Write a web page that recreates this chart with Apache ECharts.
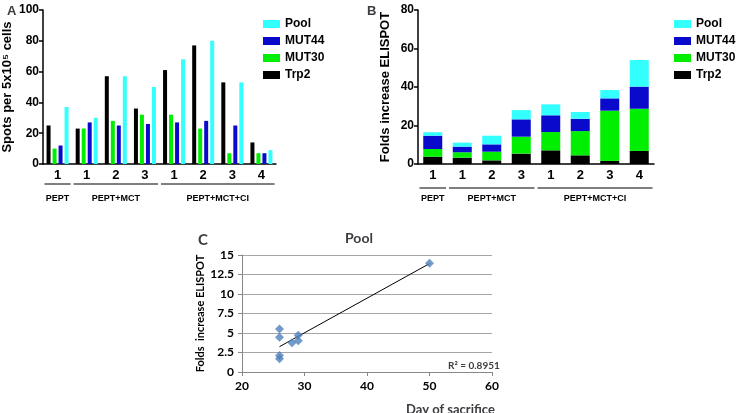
<!DOCTYPE html>
<html>
<head>
<meta charset="utf-8">
<script src="https://cdn.jsdelivr.net/npm/echarts@6/dist/echarts.min.js"></script>
<style>
  html, body { margin: 0; padding: 0; background: #fff; }
  #chart { width: 736px; height: 413px; }
</style>
</head>
<body>
<div id="chart"></div>
<script>
// panel A / B share categories
const categories = ['1', '1', '2', '3', '1', '2', '3', '4']
const groups = [
  { name: 'PEPT', from: 0, to: 0 },
  { name: 'PEPT+MCT', from: 1, to: 3 },
  { name: 'PEPT+MCT+CI', from: 4, to: 7 }
]

// A: spots per 5x10^5 cells
const spotsTrp2 = [25, 23, 57, 36, 61, 77, 53, 14]
const spotsMut30 = [10, 23, 28, 32, 32, 23, 7, 7]
const spotsMut44 = [12, 27, 25, 26, 27, 28, 25, 7]
const spotsPool = [37, 30, 57, 50, 68, 80, 53, 9]

// B: folds increase (stacked pieces)
const foldsTrp2 = [3.8, 3.3, 1.9, 5.4, 7.1, 4.5, 1.6, 6.8]
const foldsMut30 = [4.0, 2.8, 4.5, 8.8, 9.5, 12.6, 26.1, 21.9]
const foldsMut44 = [6.9, 2.9, 3.8, 9.0, 8.7, 6.4, 6.4, 11.5]
const foldsPool = [1.8, 2.1, 4.5, 4.8, 5.7, 3.5, 4.3, 13.8]

// C: pool vs day of sacrifice
const poolDays = [26, 26, 26, 26, 28, 29, 29, 50]
const poolFolds = [5.5, 4.45, 2.1, 1.7, 3.75, 4.7, 4.0, 13.95]
const trendLine = [[26, 3.25], [50, 13.9]]

const colors = { Trp2: '#000000', MUT30: '#00ee00', MUT44: '#0a0acc', Pool: '#33ffff' }
const legendOrder = ['Pool', 'MUT44', 'MUT30', 'Trp2']

const boldFont = 'Arial, "Liberation Sans", sans-serif'
const calFont = 'Lato, sans-serif'

const myChart = echarts.init(document.getElementById('chart'))

function barAxisX(gridIndex) {
  return {
    type: 'category',
    gridIndex: gridIndex,
    data: categories,
    axisLine: { lineStyle: { color: '#000', width: 1.5 } },
    axisTick: { alignWithLabel: true, length: 4, lineStyle: { color: '#000', width: 1.5 } },
    axisLabel: { color: '#000', fontFamily: boldFont, fontWeight: 'bold', fontSize: 13, margin: 5 }
  }
}

function barAxisY(gridIndex, max, interval, name, gap) {
  return {
    type: 'value',
    gridIndex: gridIndex,
    min: 0,
    max: max,
    interval: interval,
    name: name,
    nameLocation: 'middle',
    nameGap: gap,
    nameTextStyle: { color: '#000', fontFamily: boldFont, fontWeight: 'bold', fontSize: 13 },
    axisLine: { show: true, lineStyle: { color: '#000', width: 1.5 } },
    axisTick: { show: true, length: 4, lineStyle: { color: '#000', width: 1.5 } },
    axisLabel: { color: '#000', fontFamily: boldFont, fontWeight: 'bold', fontSize: 12, margin: 4 },
    splitLine: { show: false }
  }
}

function barSeries(name, data, idx, stacked) {
  const s = {
    name: name,
    type: 'bar',
    xAxisIndex: idx,
    yAxisIndex: idx,
    data: data,
    itemStyle: { color: colors[name] },
    barWidth: stacked ? 19 : 4,
    barGap: stacked ? '-100%' : '50%'
  }
  if (stacked) s.stack = 'folds'
  return s
}

function legendAt(left) {
  return {
    data: legendOrder,
    orient: 'vertical',
    left: left,
    top: 13,
    itemWidth: 17,
    itemHeight: 8,
    itemGap: 5,
    icon: 'rect',
    textStyle: { color: '#000', fontFamily: boldFont, fontWeight: 'bold', fontSize: 12 }
  }
}

const calAxisLabel = { color: '#000', fontFamily: calFont, fontWeight: 'bold', fontSize: 12 }

const options = {
  animation: false,
  title: [
    { text: 'A', left: 2, top: 0, textStyle: { fontFamily: boldFont, fontWeight: 'bold', fontSize: 13 } },
    { text: 'B', left: 362, top: 0, textStyle: { fontFamily: boldFont, fontWeight: 'bold', fontSize: 13 } },
    { text: 'C', left: 193, top: 228, textStyle: { fontFamily: calFont, fontWeight: 'bold', fontSize: 15 } },
    { text: 'Pool', left: 340, top: 226, textStyle: { fontFamily: calFont, fontWeight: 'bold', fontSize: 14 } },
    { text: 'R² = 0.8951', left: 443, top: 356, textStyle: { fontFamily: calFont, fontWeight: 'bold', fontSize: 10 } },
    { text: 'Day of sacrifice', left: 401, top: 398, textStyle: { fontFamily: calFont, fontWeight: 'bold', fontSize: 13 } }
  ],
  legend: [legendAt(258), legendAt(669)],
  grid: [
    { left: 43, top: 10, width: 233, height: 154 },
    { left: 418, top: 10, width: 236, height: 154 },
    { left: 242, top: 255, width: 250, height: 117 }
  ],
  xAxis: [
    barAxisX(0),
    barAxisX(1),
    {
      type: 'value',
      gridIndex: 2,
      min: 20,
      max: 60,
      interval: 10,
      axisLine: { show: true, onZero: false, lineStyle: { color: '#888' } },
      axisTick: { show: true, length: 4, lineStyle: { color: '#888' } },
      axisLabel: calAxisLabel,
      splitLine: { show: false }
    }
  ],
  yAxis: [
    barAxisY(0, 100, 20, 'Spots per 5x10⁵ cells', 29),
    barAxisY(1, 80, 20, 'Folds increase ELISPOT', 26),
    {
      type: 'value',
      gridIndex: 2,
      min: 0,
      max: 15,
      interval: 2.5,
      name: 'Folds  increase ELISPOT',
      nameLocation: 'middle',
      nameGap: 36,
      nameTextStyle: { color: '#000', fontFamily: calFont, fontWeight: 'bold', fontSize: 11 },
      axisLine: { show: true, lineStyle: { color: '#888' } },
      axisTick: { show: true, length: 4, lineStyle: { color: '#888' } },
      axisLabel: calAxisLabel,
      splitLine: { show: true, lineStyle: { color: '#a6a6a6' } }
    }
  ],
  series: [
    barSeries('Trp2', spotsTrp2, 0, false),
    barSeries('MUT30', spotsMut30, 0, false),
    barSeries('MUT44', spotsMut44, 0, false),
    barSeries('Pool', spotsPool, 0, false),
    barSeries('Trp2', foldsTrp2, 1, true),
    barSeries('MUT30', foldsMut30, 1, true),
    barSeries('MUT44', foldsMut44, 1, true),
    barSeries('Pool', foldsPool, 1, true),
    {
      type: 'line',
      xAxisIndex: 2,
      yAxisIndex: 2,
      data: trendLine,
      showSymbol: false,
      lineStyle: { color: '#000', width: 1 },
      z: 1
    },
    {
      type: 'scatter',
      xAxisIndex: 2,
      yAxisIndex: 2,
      data: poolDays.map((d, i) => [d, poolFolds[i]]),
      symbol: 'diamond',
      symbolSize: 9,
      itemStyle: { color: '#4f81bd' },
      z: 3
    }
  ]
}
myChart.setOption(options)

// group brackets under the category axes
function groupGraphics(axisIdx, lineY, textY) {
  const out = []
  const c0 = myChart.convertToPixel({ xAxisIndex: axisIdx }, 0)
  const c1 = myChart.convertToPixel({ xAxisIndex: axisIdx }, 1)
  const w = c1 - c0
  groups.forEach(g => {
    const x1 = c0 + (g.from - 0.45) * w
    const x2 = c0 + (g.to + 0.45) * w
    out.push({
      type: 'line',
      shape: { x1: x1, y1: lineY, x2: x2, y2: lineY },
      style: { stroke: '#000', lineWidth: 1 }
    })
    out.push({
      type: 'text',
      x: (x1 + x2) / 2,
      y: textY,
      style: {
        text: g.name,
        fill: '#000',
        font: 'bold 9px Arial, "Liberation Sans", sans-serif',
        align: 'center',
        verticalAlign: 'middle'
      }
    })
  })
  return out
}

myChart.setOption({
  graphic: groupGraphics(0, 184, 199).concat(groupGraphics(1, 188, 199))
})
</script>
</body>
</html>
